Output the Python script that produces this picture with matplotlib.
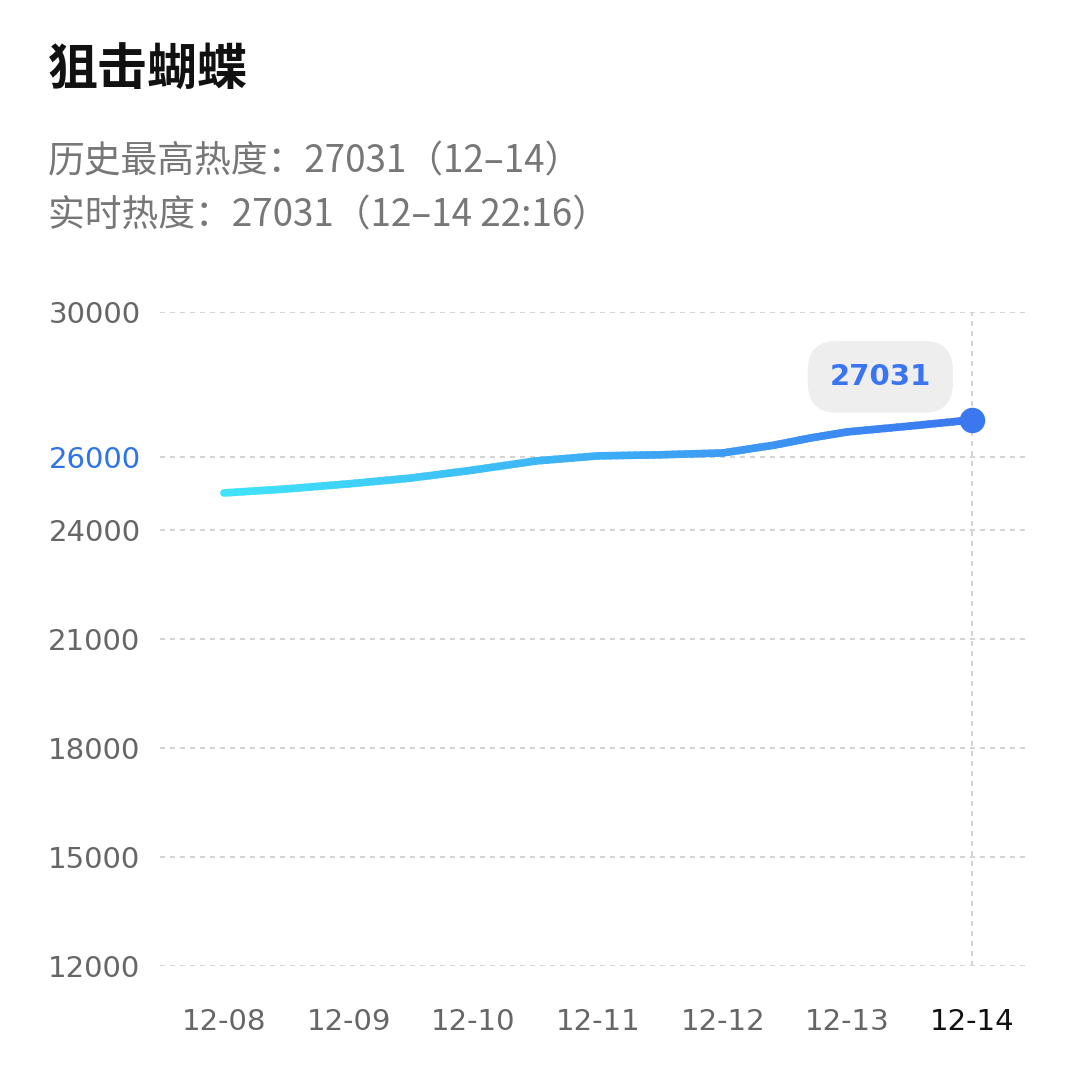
import matplotlib
matplotlib.use("Agg")
import matplotlib.pyplot as plt
import numpy as np
from matplotlib.collections import LineCollection
from matplotlib.colors import LinearSegmentedColormap

plt.rcParams['font.family'] = ['Noto Sans CJK SC', 'DejaVu Sans']

days = ["12-08", "12-09", "12-10", "12-11", "12-12", "12-13", "12-14"]
x_pos = [0, 0.5, 1, 1.5, 2, 2.5, 3, 3.5, 4, 4.42, 4.7, 5, 5.5, 6]
values = [25020, 25130, 25270, 25430, 25650, 25900, 26040, 26070, 26120, 26340, 26530, 26700, 26860, 27031]
yticks = [12000, 15000, 18000, 21000, 24000, 26000, 30000]

fig = plt.figure(figsize=(10.8, 10.82), dpi=100)
ax = fig.add_axes([160/1080, 116/1082, 870/1080, 654/1082])
ax.set_xlim(-0.513, 6.465)
ax.set_ylim(12000, 30000)
for s in ax.spines.values():
    s.set_visible(False)
for t in yticks:
    ax.axhline(t, color='#cccccc', lw=1.2, ls=(0, (3, 3)), zorder=0)
ax.axvline(6, color='#cccccc', lw=1.2, ls=(0, (3, 3)), zorder=0)

xs, ys = [], []
for i in range(len(x_pos) - 1):
    for f in np.linspace(0, 1, 10, endpoint=False):
        xs.append(x_pos[i] + f * (x_pos[i+1] - x_pos[i]))
        ys.append(values[i] + f * (values[i+1] - values[i]))
xs.append(x_pos[-1]); ys.append(values[-1])
pts = np.array([xs, ys]).T.reshape(-1, 1, 2)
segs = np.concatenate([pts[:-1], pts[1:]], axis=1)
cmap = LinearSegmentedColormap.from_list('g', ['#40e4fa', '#3b78f0'])
lc = LineCollection(segs, cmap=cmap, linewidth=5.5, capstyle='round', joinstyle='round')
lc.set_array(np.array(xs[:-1]))
ax.add_collection(lc)
ax.scatter([x_pos[-1]], [values[-1]], s=300, color='#3b78f0', zorder=5)

ax.annotate(str(values[-1]), (x_pos[-1], values[-1]), xytext=(-66, 31), textcoords='offset points',
            ha='center', va='center', fontsize=21, fontweight='bold', color='#3b74f0',
            family=['DejaVu Sans'],
            bbox=dict(boxstyle='round,pad=0.75,rounding_size=1.0', fc='#eeeeee', ec='none'))

ax.set_yticks(yticks)
ax.set_yticklabels([str(t) for t in yticks], fontsize=21, color='#666666', family=['DejaVu Sans'])
ax.get_yticklabels()[5].set_color('#2e74e8')
ax.set_xticks(range(7))
ax.set_xticklabels(days, fontsize=21, color='#666666', family=['DejaVu Sans'])
ax.get_xticklabels()[6].set_color('#111111')
ax.tick_params(length=0)
ax.tick_params(axis='y', pad=14)
ax.tick_params(axis='x', pad=30)

fig.text(48/1080, 1-70/1082, "狙击蝴蝶", fontsize=36, fontweight='bold', color='#111111', va='center')
fig.text(48/1080, 1-162/1082, "历史最高热度：27031（12–14）", fontsize=26.5, color='#777777', va='center')
fig.text(48/1080, 1-216/1082, "实时热度：27031（12–14 22:16）", fontsize=26.5, color='#777777', va='center')

fig.savefig("out.png", dpi=100, facecolor='white')
